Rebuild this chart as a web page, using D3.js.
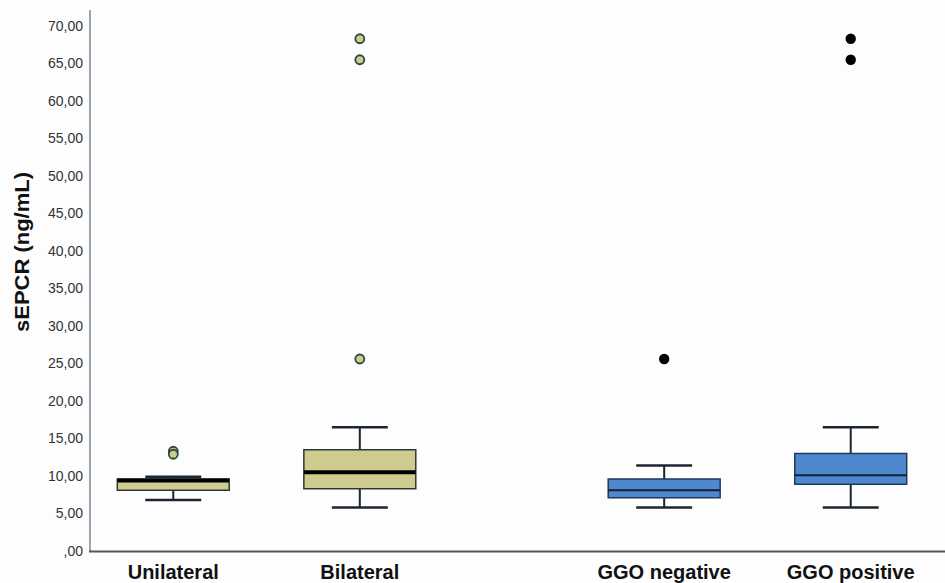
<!DOCTYPE html>
<html><head><meta charset="utf-8">
<script src="https://cdn.jsdelivr.net/npm/d3@7"></script>
<style>body{margin:0;background:#fdfdfe}svg{display:block}</style>
</head><body>
<script>
// Data
const groups = ["Side", "GGO"];
const categories = ["Unilateral", "Bilateral", "GGO negative", "GGO positive"];
const categoryGroup = ["Side", "Side", "GGO", "GGO"];
const whiskerLow = [6.8, 5.8, 5.8, 5.8];
const q1 = [8.1, 8.3, 7.1, 8.9];
const median = [9.4, 10.5, 8.1, 10.1];
const q3 = [9.6, 13.5, 9.6, 13.0];
const whiskerHigh = [9.9, 16.5, 11.4, 16.5];
const outliers = [[13.3, 12.9], [68.3, 65.5, 25.6], [25.6], [68.3, 65.5]];
const yTicks = [0, 5, 10, 15, 20, 25, 30, 35, 40, 45, 50, 55, 60, 65, 70];
const fills = ["#cfca8e", "#cfca8e", "#4f88cc", "#4f88cc"];

const W = 945, H = 583;
const font = "Arial, 'Liberation Sans', sans-serif";
const svg = d3.select("body").append("svg").attr("width", W).attr("height", H);
svg.append("rect").attr("width", W).attr("height", H).attr("fill", "#fdfdfe");

const y = d3.scaleLinear().domain([0, 70]).range([551, 26]);
const xg = d3.scaleBand().domain(groups).range([80, 944]).paddingInner(0.24).paddingOuter(0);
const xi = {};
groups.forEach(g => {
  xi[g] = d3.scaleBand().domain(categories.filter((c, i) => categoryGroup[i] === g))
    .range([xg(g), xg(g) + xg.bandwidth()]).paddingInner(0).paddingOuter(0);
});
const cx = i => xi[categoryGroup[i]](categories[i]) + xi[categoryGroup[i]].bandwidth() / 2;
const boxW = i => xi[categoryGroup[i]].bandwidth() * 0.6;
const capW = i => xi[categoryGroup[i]].bandwidth() * 0.3;

// Y axis labels
const yAxis = d3.axisLeft(y).tickValues(yTicks).tickSize(0).tickPadding(7)
  .tickFormat(d => d === 0 ? ",00" : d3.format(".2f")(d).replace(".", ","));
const gy = svg.append("g").attr("transform", "translate(90,0)").call(yAxis);
gy.select(".domain").remove();
gy.selectAll("text").attr("font-family", font).attr("font-size", 14).attr("fill", "#333");
svg.append("line").attr("x1", 90).attr("x2", 90).attr("y1", 10).attr("y2", 552).attr("stroke", "#7a8796").attr("stroke-width", 1.5);
svg.append("line").attr("x1", 89).attr("x2", 945).attr("y1", 551.5).attr("y2", 551.5).attr("stroke", "#555").attr("stroke-width", 2);

svg.append("text").attr("transform", "translate(29,252) rotate(-90)").attr("text-anchor", "middle")
  .attr("font-family", font).attr("font-weight", "bold").attr("font-size", 20)
  .attr("textLength", 160).attr("lengthAdjust", "spacingAndGlyphs")
  .attr("fill", "#111").text("sEPCR (ng/mL)");

// X labels
svg.selectAll("text.cat").data(categories).enter().append("text").attr("class", "cat")
  .attr("x", (d, i) => cx(i)).attr("y", 579).attr("text-anchor", "middle")
  .attr("font-family", font).attr("font-weight", "bold").attr("font-size", 20)
  .attr("fill", "#111").text(d => d);

const stroke = "#1c2630";
categories.forEach((c, i) => {
  const g = svg.append("g");
  const x0 = cx(i);
  g.append("line").attr("x1", x0).attr("x2", x0).attr("y1", y(q3[i])).attr("y2", y(whiskerHigh[i])).attr("stroke", stroke).attr("stroke-width", 2);
  g.append("line").attr("x1", x0).attr("x2", x0).attr("y1", y(q1[i])).attr("y2", y(whiskerLow[i])).attr("stroke", stroke).attr("stroke-width", 2);
  g.append("line").attr("x1", x0 - capW(i)/2).attr("x2", x0 + capW(i)/2).attr("y1", y(whiskerHigh[i])).attr("y2", y(whiskerHigh[i])).attr("stroke", stroke).attr("stroke-width", 2.5);
  g.append("line").attr("x1", x0 - capW(i)/2).attr("x2", x0 + capW(i)/2).attr("y1", y(whiskerLow[i])).attr("y2", y(whiskerLow[i])).attr("stroke", stroke).attr("stroke-width", 2.5);
  g.append("rect").attr("x", x0 - boxW(i)/2).attr("width", boxW(i)).attr("y", y(q3[i])).attr("height", y(q1[i]) - y(q3[i]))
    .attr("fill", fills[i]).attr("stroke", i < 2 ? "#2b3a38" : "#1d3a5c").attr("stroke-width", 1.5);
  g.append("line").attr("x1", x0 - boxW(i)/2).attr("x2", x0 + boxW(i)/2).attr("y1", y(median[i])).attr("y2", y(median[i]))
    .attr("stroke", i < 2 ? "#000" : "#0f2236").attr("stroke-width", i < 2 ? 4 : 2.2);
  outliers[i].forEach(v => {
    g.append("circle").attr("cx", x0).attr("cy", y(v)).attr("r", i < 2 ? 4.5 : 5.2)
      .attr("fill", i < 2 ? fills[i] : "#000").attr("stroke", i < 2 ? "#2a4a3c" : "#000").attr("stroke-width", i < 2 ? 1.8 : 0);
  });
});
</script>
</body></html>
